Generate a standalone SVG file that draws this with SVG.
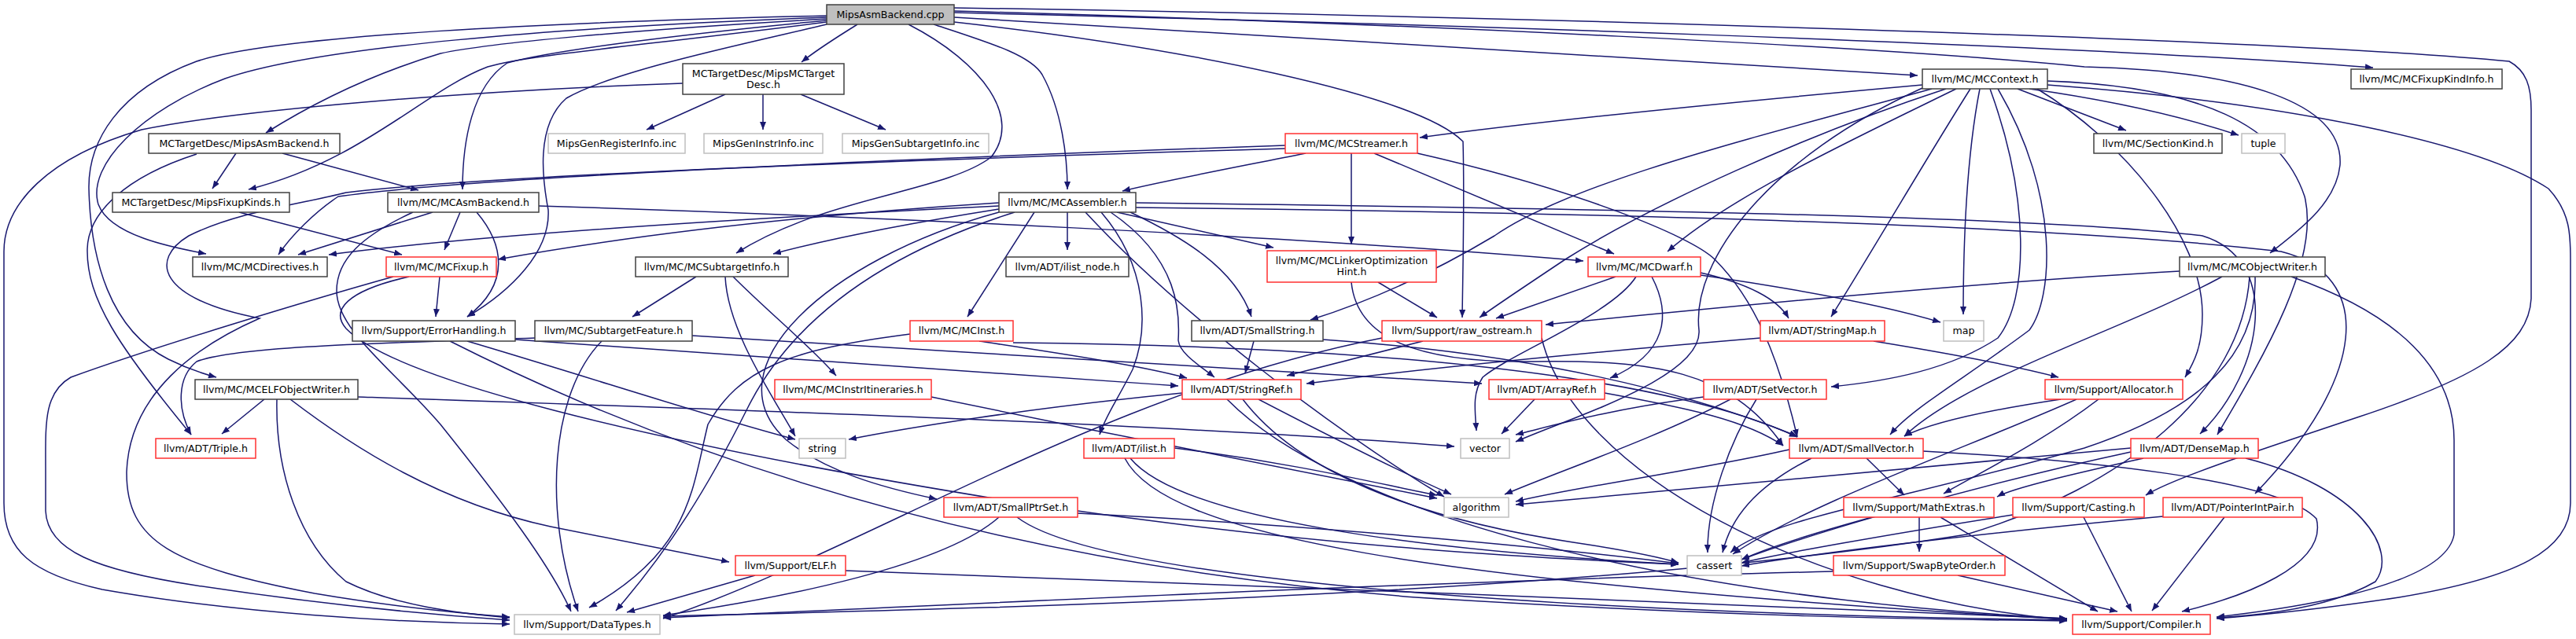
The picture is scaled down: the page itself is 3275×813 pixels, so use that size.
<svg xmlns="http://www.w3.org/2000/svg" width="3275" height="813" viewBox="0 0 3275 813">
<style>
.e{fill:none;stroke:#191970;stroke-width:1.5;marker-end:url(#ah)}
.n rect{fill:#fff;stroke:#404040;stroke-width:1.5}
.r rect{fill:#fff;stroke:#ff3030;stroke-width:1.5}
.g rect{fill:#fff;stroke:#bfbfbf;stroke-width:1.5}
.c rect{fill:#bfbfbf;stroke:#404040;stroke-width:1.5}
text{font-family:"DejaVu Sans","Liberation Sans",sans-serif;font-size:12.6px;fill:#000;text-anchor:middle}
</style>
<defs>
<marker id="ah" viewBox="0 0 10 8" refX="10" refY="4" markerWidth="10" markerHeight="8" orient="auto" markerUnits="userSpaceOnUse"><path d="M0,0 L10,4 L0,8 z" fill="#191970"/></marker>
</defs>
<rect width="3275" height="813" fill="#fff"/>
<g id="edges">
<path class="e" d="M1051,24 C800,38 620,55 560,68 C470,95 400,130 338,169"/>
<path class="e" d="M1051,28 C800,60 670,70 620,85 C540,115 460,205 316,241"/>
<path class="e" d="M1051,26 C850,45 700,65 645,80 C600,110 588,180 588,241"/>
<path class="e" d="M1051,22 C700,35 400,60 286,100 C180,140 110,210 125,260 C140,300 220,315 262,323"/>
<path class="e" d="M1051,20 C700,28 350,45 250,78 C150,115 112,180 113,240 C115,330 140,420 214,457 C240,470 260,476 275,480"/>
<path class="e" d="M1051,31 C950,55 780,90 720,125 C680,160 690,230 697,267 C700,320 650,370 594,403"/>
<path class="e" d="M1090,31 C1060,50 1040,62 1019,79"/>
<path class="e" d="M1187,31 C1260,55 1310,70 1325,95 C1350,140 1357,200 1357,241"/>
<path class="e" d="M1155,31 C1250,80 1300,150 1260,200 C1200,245 1050,250 936,322"/>
<path class="e" d="M1213,22 C1600,45 2100,75 2438,96"/>
<path class="e" d="M1213,16 C1800,30 2600,55 3017,86"/>
<path class="e" d="M1213,14 C1800,30 2400,60 2650,85 C2850,90 2980,130 2975,210 C2970,260 2920,295 2886,322"/>
<path class="e" d="M1213,28 C1500,60 1800,120 1860,180 C1862,250 1860,330 1859,404"/>
<path class="e" d="M1213,10 C1900,20 2900,50 3190,78 C3212,90 3218,110 3218,140 L3218,380 C3215,440 3150,480 3000,530 C2850,580 2760,610 2728,630"/>
<path class="e" d="M922,120 L822,165"/>
<path class="e" d="M970,120 L970,165"/>
<path class="e" d="M1018,120 L1126,165"/>
<path class="e" d="M868,106 C600,115 300,140 180,165 C60,200 5,260 5,320 L5,640 C5,700 40,730 130,750 C300,780 500,792 648,794"/>
<path class="e" d="M300,195 L270,240"/>
<path class="e" d="M359,195 L532,242"/>
<path class="e" d="M250,196 C160,225 112,270 111,317 C110,380 150,440 243,553"/>
<path class="e" d="M304,270 L511,324"/>
<path class="e" d="M550,270 L379,324"/>
<path class="e" d="M585,270 L565,318"/>
<path class="e" d="M606,270 C640,310 650,360 594,403"/>
<path class="e" d="M525,270 C460,300 428,330 428,370 C428,420 500,470 560,540 C640,640 700,720 726,778"/>
<path class="e" d="M685,262 C1100,275 1640,300 2013,332"/>
<path class="e" d="M559,352 L554,403"/>
<path class="e" d="M500,352 C400,380 200,440 90,480 C55,500 58,540 58,600 L58,650 C60,700 120,725 250,745 C400,768 550,782 648,789"/>
<path class="e" d="M520,352 C440,370 420,395 440,418 C500,480 800,560 1300,640 C1700,700 2000,712 2134,718"/>
<path class="e" d="M594,434 C750,480 900,530 1011,559"/>
<path class="e" d="M655,432 C900,450 1200,470 1498,491"/>
<path class="e" d="M572,434 C900,600 1300,720 1800,760 C2200,785 2450,788 2628,790"/>
<path class="e" d="M680,430 C500,436 300,440 250,460 C225,480 225,520 243,553"/>
<path class="e" d="M765,434 C700,500 690,650 735,778"/>
<path class="e" d="M880,427 C1300,450 1600,470 1884,488"/>
<path class="e" d="M885,352 L804,403"/>
<path class="e" d="M922,352 C925,420 980,500 1011,555"/>
<path class="e" d="M932,352 C980,400 1030,440 1063,478"/>
<path class="e" d="M1184,505 C1400,550 1650,600 1827,634"/>
<path class="e" d="M336,508 L282,552"/>
<path class="e" d="M369,508 C450,570 560,640 700,670 C800,690 880,705 927,715"/>
<path class="e" d="M352,508 C350,600 380,690 440,740 C500,770 580,780 648,786"/>
<path class="e" d="M455,505 C900,520 1500,540 1849,568"/>
<path class="e" d="M960,732 L797,779"/>
<path class="e" d="M1075,726 C1500,740 2200,770 2628,787"/>
<path class="e" d="M1660,195 C1560,215 1480,230 1427,243"/>
<path class="e" d="M1634,185 C1200,200 600,225 430,250 C400,270 370,300 354,324"/>
<path class="e" d="M1634,189 C1100,205 600,225 440,245 C380,260 300,270 240,300 C190,330 200,380 330,405 C250,440 165,500 161,600 C160,690 220,720 400,755 C500,772 580,780 648,785"/>
<path class="e" d="M1718,195 L1718,311"/>
<path class="e" d="M1747,195 L2052,323"/>
<path class="e" d="M1802,195 C2000,240 2150,300 2180,330 C2230,380 2260,450 2285,556"/>
<path class="e" d="M1752,359 L1827,404"/>
<path class="e" d="M1718,359 C1725,430 1800,462 1950,460 C2100,458 2200,470 2267,567"/>
<path class="e" d="M2054,352 L1902,405"/>
<path class="e" d="M2100,352 C2125,400 2120,450 2047,481"/>
<path class="e" d="M2080,352 C2050,400 1920,450 1885,480 C1872,500 1875,520 1877,548"/>
<path class="e" d="M2162,347 C2220,360 2260,380 2274,405"/>
<path class="e" d="M2162,350 C2300,370 2400,390 2467,410"/>
<path class="e" d="M2444,108 C2200,130 1950,155 1805,175"/>
<path class="e" d="M2456,113 C2250,170 2000,230 1900,300 C1800,360 1720,390 1666,407"/>
<path class="e" d="M2474,113 C2300,170 2100,260 1990,330 C1930,370 1900,390 1881,404"/>
<path class="e" d="M2487,113 C2350,180 2200,250 2120,320"/>
<path class="e" d="M2505,113 C2450,200 2380,320 2328,403"/>
<path class="e" d="M2517,113 C2500,200 2496,300 2496,400"/>
<path class="e" d="M2530,113 C2580,250 2580,380 2540,430 C2480,470 2400,485 2328,492"/>
<path class="e" d="M2540,113 C2620,250 2610,380 2580,420 C2500,480 2430,520 2403,553"/>
<path class="e" d="M2565,113 L2703,166"/>
<path class="e" d="M2580,113 C2700,130 2780,150 2846,172"/>
<path class="e" d="M2603,108 C2900,130 3150,180 3240,240 C3268,270 3268,300 3268,330 L3268,640 C3268,700 3200,735 3050,760 C2950,775 2870,783 2818,787"/>
<path class="e" d="M2603,103 C2800,110 2900,160 2930,250 C2950,330 2880,450 2819,553"/>
<path class="e" d="M2590,113 C2700,180 2800,300 2800,400 C2800,440 2790,460 2778,480"/>
<path class="e" d="M2444,112 C2250,200 2150,330 2160,420 C2165,480 2000,530 1927,562"/>
<path class="e" d="M2771,345 C2500,360 2200,390 1965,413"/>
<path class="e" d="M2825,352 C2700,420 2500,480 2421,555"/>
<path class="e" d="M2860,352 C2850,500 2700,620 2500,680 C2000,760 1200,775 843,784"/>
<path class="e" d="M2913,352 C3050,400 3120,470 3120,560 L3120,680 C3110,740 2950,770 2818,785"/>
<path class="e" d="M2867,352 C2870,450 2800,520 2650,570 C2400,640 2250,660 2200,703"/>
<path class="e" d="M2238,430 C2000,450 1800,470 1661,488"/>
<path class="e" d="M2382,434 C2480,450 2560,465 2617,480"/>
<path class="e" d="M1594,434 L1583,475"/>
<path class="e" d="M1682,432 C1950,450 2150,500 2285,555"/>
<path class="e" d="M1809,434 L1636,478"/>
<path class="e" d="M1960,430 C2000,600 2300,760 2628,789"/>
<path class="e" d="M1757,430 C1400,500 1100,700 843,787"/>
<path class="e" d="M1503,500 C1300,520 1150,545 1079,559"/>
<path class="e" d="M1600,508 C1700,560 1780,600 1845,629"/>
<path class="e" d="M1580,508 C1650,600 1800,660 2000,690 C2080,702 2120,712 2134,716"/>
<path class="e" d="M1560,508 C1700,650 2100,760 2628,787"/>
<path class="e" d="M1951,508 L1909,552"/>
<path class="e" d="M2166,505 C2050,520 1980,540 1927,553"/>
<path class="e" d="M2200,508 C2100,560 1980,600 1913,629"/>
<path class="e" d="M2233,508 C2200,560 2170,640 2171,703"/>
<path class="e" d="M2620,508 C2540,520 2460,535 2421,555"/>
<path class="e" d="M2668,508 C2600,560 2520,600 2471,628"/>
<path class="e" d="M2640,508 C2500,570 2300,640 2203,705"/>
<path class="e" d="M2275,572 C2150,600 2000,620 1927,638"/>
<path class="e" d="M2373,583 L2421,630"/>
<path class="e" d="M2303,583 C2230,620 2200,660 2190,703"/>
<path class="e" d="M2445,574 C2650,585 2900,610 2945,660 C2960,720 2850,760 2774,778"/>
<path class="e" d="M2709,570 C2400,600 2100,625 1927,642"/>
<path class="e" d="M2725,583 C2650,600 2560,620 2539,632"/>
<path class="e" d="M2709,575 C2500,620 2300,680 2214,712"/>
<path class="e" d="M2855,583 C3000,620 3050,700 3020,740 C2960,775 2870,783 2818,786"/>
<path class="e" d="M2440,658 L2440,702"/>
<path class="e" d="M2467,658 L2667,778"/>
<path class="e" d="M2380,658 C2300,680 2240,700 2214,712"/>
<path class="e" d="M2649,658 L2710,778"/>
<path class="e" d="M2559,655 C2400,680 2260,705 2214,716"/>
<path class="e" d="M2828,658 L2736,777"/>
<path class="e" d="M2750,657 C2500,680 2300,705 2214,720"/>
<path class="e" d="M2489,732 L2692,778"/>
<path class="e" d="M2331,727 C1800,740 1200,770 843,786"/>
<path class="e" d="M1493,570 C1650,590 1750,615 1827,630"/>
<path class="e" d="M1437,583 C1500,660 1800,700 2134,718"/>
<path class="e" d="M1430,583 C1480,680 1800,740 2628,788"/>
<path class="e" d="M1293,658 C1400,740 2000,780 2628,789"/>
<path class="e" d="M1270,658 C1200,720 1000,760 843,783"/>
<path class="e" d="M1370,653 C1700,670 2000,700 2134,717"/>
<path class="e" d="M1270,270 C1050,330 900,470 1000,560 C1050,600 1120,620 1191,635"/>
<path class="e" d="M1400,270 C1460,340 1460,420 1440,470 C1420,510 1405,530 1398,553"/>
<path class="e" d="M1444,258 C2000,265 2600,275 2800,300 C2900,330 2880,470 2797,552"/>
<path class="e" d="M1444,264 C2000,270 2600,285 2900,320 C3020,350 3010,480 2867,628"/>
<path class="e" d="M1380,270 C1500,400 1700,550 1836,632"/>
<path class="e" d="M1290,270 C1100,330 1000,420 950,520 C900,620 850,700 783,777"/>
<path class="e" d="M1412,270 C1500,330 1500,400 1498,433 C1500,450 1525,465 1544,480"/>
<path class="e" d="M1270,262 C900,280 600,300 418,324"/>
<path class="e" d="M1270,258 C1000,275 800,300 633,330"/>
<path class="e" d="M1270,266 C1150,285 1050,305 983,323"/>
<path class="e" d="M1357,270 L1357,318"/>
<path class="e" d="M1420,270 L1619,315"/>
<path class="e" d="M1315,270 L1230,403"/>
<path class="e" d="M1437,270 C1500,300 1570,340 1591,403"/>
<path class="e" d="M1157,425 C1000,445 940,470 900,540 C880,620 880,700 749,773"/>
<path class="e" d="M1245,434 C1350,450 1450,465 1509,481"/>
<path class="e" d="M1288,436 C1700,440 2100,470 2285,556"/>
<path class="e" d="M2040,500 C2150,520 2220,535 2267,567"/>
</g>
<g id="n_cpp" class="c"><rect x="1051" y="6" width="162" height="25"/><text x="1132" y="23">MipsAsmBackend.cpp</text></g>
<g id="n_mipsmctargetdesc" class="n"><rect x="868" y="81" width="205" height="39"/><text x="970.5" y="97.5">MCTargetDesc/MipsMCTarget</text><text x="970.5" y="111.5">Desc.h</text></g>
<g id="n_mccontext" class="n"><rect x="2444" y="88" width="159" height="25"/><text x="2523.5" y="105">llvm/MC/MCContext.h</text></g>
<g id="n_mcfixupkindinfo" class="n"><rect x="2989" y="88" width="192" height="25"/><text x="3085" y="105">llvm/MC/MCFixupKindInfo.h</text></g>
<g id="n_mipsasmbackend_h" class="n"><rect x="189" y="170" width="243" height="25"/><text x="310.5" y="187">MCTargetDesc/MipsAsmBackend.h</text></g>
<g id="n_reginfo" class="g"><rect x="697" y="170" width="174" height="25"/><text x="784" y="187">MipsGenRegisterInfo.inc</text></g>
<g id="n_instrinfo" class="g"><rect x="895" y="170" width="151" height="25"/><text x="970.5" y="187">MipsGenInstrInfo.inc</text></g>
<g id="n_subtargetinc" class="g"><rect x="1071" y="170" width="186" height="25"/><text x="1164" y="187">MipsGenSubtargetInfo.inc</text></g>
<g id="n_mcstreamer" class="r"><rect x="1634" y="170" width="168" height="25"/><text x="1718" y="187">llvm/MC/MCStreamer.h</text></g>
<g id="n_sectionkind" class="n"><rect x="2662" y="170" width="163" height="25"/><text x="2743.5" y="187">llvm/MC/SectionKind.h</text></g>
<g id="n_tuple" class="g"><rect x="2850" y="170" width="55" height="25"/><text x="2877.5" y="187">tuple</text></g>
<g id="n_mipsfixupkinds" class="n"><rect x="143" y="245" width="225" height="25"/><text x="255.5" y="262">MCTargetDesc/MipsFixupKinds.h</text></g>
<g id="n_mcasmbackend" class="n"><rect x="493" y="245" width="192" height="25"/><text x="589" y="262">llvm/MC/MCAsmBackend.h</text></g>
<g id="n_mcassembler" class="n"><rect x="1270" y="245" width="174" height="25"/><text x="1357" y="262">llvm/MC/MCAssembler.h</text></g>
<g id="n_mcdirectives" class="n"><rect x="245" y="327" width="171" height="25"/><text x="330.5" y="344">llvm/MC/MCDirectives.h</text></g>
<g id="n_mcfixup" class="r"><rect x="491" y="327" width="140" height="25"/><text x="561" y="344">llvm/MC/MCFixup.h</text></g>
<g id="n_mcsubtargetinfo" class="n"><rect x="808" y="327" width="194" height="25"/><text x="905" y="344">llvm/MC/MCSubtargetInfo.h</text></g>
<g id="n_ilist_node" class="n"><rect x="1279" y="327" width="156" height="25"/><text x="1357" y="344">llvm/ADT/ilist_node.h</text></g>
<g id="n_mcloh" class="r"><rect x="1611" y="319" width="215" height="40"/><text x="1718.5" y="336">llvm/MC/MCLinkerOptimization</text><text x="1718.5" y="350">Hint.h</text></g>
<g id="n_mcdwarf" class="r"><rect x="2019" y="327" width="143" height="25"/><text x="2090.5" y="344">llvm/MC/MCDwarf.h</text></g>
<g id="n_mcobjectwriter" class="n"><rect x="2771" y="327" width="185" height="25"/><text x="2863.5" y="344">llvm/MC/MCObjectWriter.h</text></g>
<g id="n_errorhandling" class="n"><rect x="448" y="408" width="207" height="26"/><text x="551.5" y="425">llvm/Support/ErrorHandling.h</text></g>
<g id="n_subtargetfeature" class="n"><rect x="680" y="408" width="200" height="26"/><text x="780" y="425">llvm/MC/SubtargetFeature.h</text></g>
<g id="n_mcinst" class="r"><rect x="1157" y="408" width="131" height="26"/><text x="1222.5" y="425">llvm/MC/MCInst.h</text></g>
<g id="n_smallstring" class="n"><rect x="1515" y="408" width="167" height="26"/><text x="1598.5" y="425">llvm/ADT/SmallString.h</text></g>
<g id="n_raw_ostream" class="r"><rect x="1757" y="408" width="203" height="26"/><text x="1858.5" y="425">llvm/Support/raw_ostream.h</text></g>
<g id="n_stringmap" class="r"><rect x="2238" y="408" width="158" height="26"/><text x="2317" y="425">llvm/ADT/StringMap.h</text></g>
<g id="n_map" class="g"><rect x="2471" y="408" width="51" height="26"/><text x="2496.5" y="425">map</text></g>
<g id="n_mcelfobjectwriter" class="n"><rect x="248" y="483" width="207" height="25"/><text x="351.5" y="500">llvm/MC/MCELFObjectWriter.h</text></g>
<g id="n_mcinstritineraries" class="r"><rect x="985" y="483" width="199" height="25"/><text x="1084.5" y="500">llvm/MC/MCInstrItineraries.h</text></g>
<g id="n_stringref" class="r"><rect x="1503" y="483" width="151" height="25"/><text x="1578.5" y="500">llvm/ADT/StringRef.h</text></g>
<g id="n_arrayref" class="r"><rect x="1893" y="483" width="147" height="25"/><text x="1966.5" y="500">llvm/ADT/ArrayRef.h</text></g>
<g id="n_setvector" class="r"><rect x="2166" y="483" width="156" height="25"/><text x="2244" y="500">llvm/ADT/SetVector.h</text></g>
<g id="n_allocator" class="r"><rect x="2600" y="483" width="175" height="25"/><text x="2687.5" y="500">llvm/Support/Allocator.h</text></g>
<g id="n_triple" class="r"><rect x="198" y="558" width="127" height="25"/><text x="261.5" y="575">llvm/ADT/Triple.h</text></g>
<g id="n_string" class="g"><rect x="1016" y="558" width="59" height="25"/><text x="1045.5" y="575">string</text></g>
<g id="n_ilist" class="r"><rect x="1378" y="558" width="115" height="25"/><text x="1435.5" y="575">llvm/ADT/ilist.h</text></g>
<g id="n_vector" class="g"><rect x="1857" y="558" width="62" height="25"/><text x="1888" y="575">vector</text></g>
<g id="n_smallvector" class="r"><rect x="2275" y="558" width="170" height="25"/><text x="2360" y="575">llvm/ADT/SmallVector.h</text></g>
<g id="n_densemap" class="r"><rect x="2709" y="558" width="162" height="25"/><text x="2790" y="575">llvm/ADT/DenseMap.h</text></g>
<g id="n_smallptrset" class="r"><rect x="1200" y="633" width="170" height="25"/><text x="1285" y="650">llvm/ADT/SmallPtrSet.h</text></g>
<g id="n_algorithm" class="g"><rect x="1836" y="633" width="82" height="25"/><text x="1877" y="650">algorithm</text></g>
<g id="n_mathextras" class="r"><rect x="2344" y="633" width="191" height="25"/><text x="2439.5" y="650">llvm/Support/MathExtras.h</text></g>
<g id="n_casting" class="r"><rect x="2559" y="633" width="167" height="25"/><text x="2642.5" y="650">llvm/Support/Casting.h</text></g>
<g id="n_pointerintpair" class="r"><rect x="2750" y="633" width="177" height="25"/><text x="2838.5" y="650">llvm/ADT/PointerIntPair.h</text></g>
<g id="n_elf" class="r"><rect x="935" y="707" width="140" height="25"/><text x="1005" y="724">llvm/Support/ELF.h</text></g>
<g id="n_cassert" class="g"><rect x="2145" y="707" width="69" height="25"/><text x="2179.5" y="724">cassert</text></g>
<g id="n_swapbyteorder" class="r"><rect x="2331" y="707" width="218" height="25"/><text x="2440" y="724">llvm/Support/SwapByteOrder.h</text></g>
<g id="n_datatypes" class="g"><rect x="654" y="782" width="185" height="25"/><text x="746.5" y="799">llvm/Support/DataTypes.h</text></g>
<g id="n_compiler" class="r"><rect x="2635" y="782" width="175" height="25"/><text x="2722.5" y="799">llvm/Support/Compiler.h</text></g>
</svg>
